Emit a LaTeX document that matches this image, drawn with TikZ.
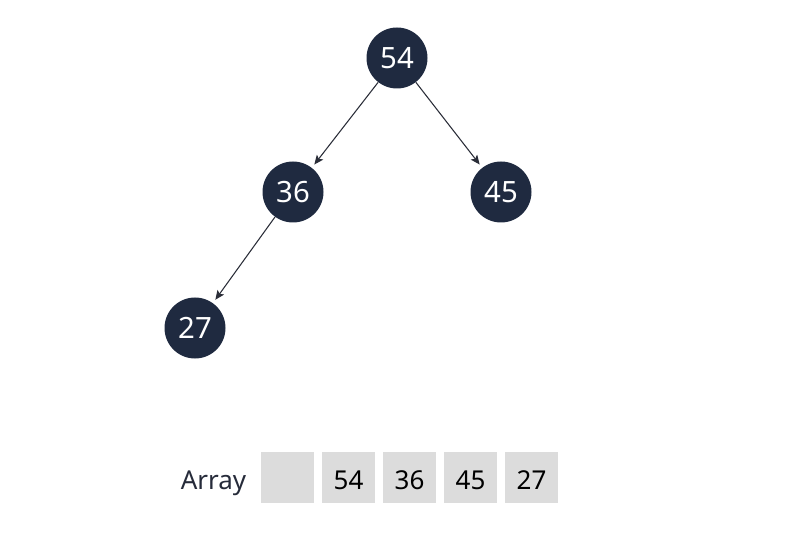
\documentclass[tikz,border=0pt]{standalone}
\usepackage{fontspec}
\setmainfont{Noto Sans}
\usetikzlibrary{positioning,arrows.meta}
\definecolor{nodenavy}{HTML}{1F2A40}
\definecolor{cellgray}{HTML}{DCDCDC}
\definecolor{linkgray}{HTML}{2A2D38}
\definecolor{labelgray}{HTML}{262B3A}

\begin{document}
\begin{tikzpicture}[
                x=0.75pt, y=-0.75pt,
                on grid,
                every node/.append style={inner sep=0pt},
                heapnode/.style={circle,fill=nodenavy,text=white,minimum size=45.75pt,
                    font=\fontsize{22}{26}\selectfont},
                cell/.style={fill=cellgray,minimum width=39.75pt,minimum height=38.25pt,
                    text height=18.5pt,text depth=0pt,font=\fontsize{19.5}{23}\selectfont},
                link/.style={draw=linkgray,line width=0.8pt,shorten >=3pt,
                    -{Stealth[length=7pt,width=6pt,inset=1.5pt]}}
            ]
                \useasboundingbox (0,0) rectangle (788,534);
                % heap tree
                \node[heapnode] (n54) at (397,58) {54};
                \node[heapnode] (n36) [below left=100.5pt and 78pt of n54]  {36};
                \node[heapnode] (n45) [below right=100.5pt and 78pt of n54] {45};
                \node[heapnode] (n27) [below left=102pt and 73.5pt of n36]  {27};
                \draw[link] (n54) -- (n36);
                \draw[link] (n54) -- (n45);
                \draw[link] (n36) -- (n27);
                % array
                \node[cell] (c0) at (287.5,477.5) {};
                \node[cell] (c1) [right=45.75pt of c0] {54};
                \node[cell] (c2) [right=45.75pt of c1] {36};
                \node[cell] (c3) [right=45.75pt of c2] {45};
                \node[cell] (c4) [right=45.75pt of c3] {27};
                \node[text=labelgray,text height=18.5pt,text depth=0pt,
                    font=\fontsize{19.5}{23}\selectfont] (arr) [left=55.5pt of c0] {Array};
            \end{tikzpicture}
\end{document}
